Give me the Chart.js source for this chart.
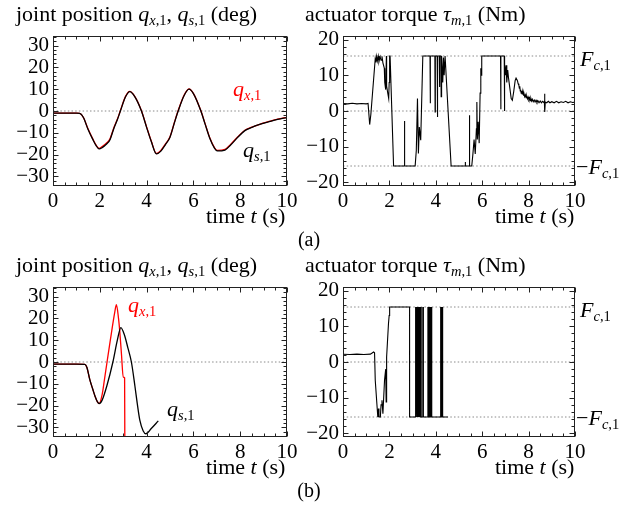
<!DOCTYPE html>
<html>
<head>
<meta charset="utf-8">
<script src="https://cdn.jsdelivr.net/npm/chart.js@4.4.1/dist/chart.umd.min.js"></script>
<style>
  body { margin: 0; background: #fff; width: 639px; height: 506px; overflow: hidden; position: relative; font-family: 'Liberation Serif', serif; }
  canvas { position: absolute; }
  .t { position: absolute; white-space: nowrap; line-height: 1; color: #000; }
  .t i { font-style: italic; }
  .t sub { font-size: 0.66em; vertical-align: baseline; position: relative; top: 0.28em; }
</style>
</head>
<body>
<canvas id="posA"></canvas>
<canvas id="tauA"></canvas>
<canvas id="posB"></canvas>
<canvas id="tauB"></canvas>
<script>
// ---- data ----
const timeTicks = [0, 2, 4, 6, 8, 10];
const posTicks = [-30, -20, -10, 0, 10, 20, 30];
const tauTicks = [-20, -10, 0, 10, 20];
const posRefLevels = [0];
const tauRefLevels = [0, 15.4, -15.4];

// (a) joint position
const tPosA = [0, 0.5, 1.0, 1.14, 1.3, 1.5, 1.7, 1.85, 1.97, 2.1, 2.3, 2.43, 2.6, 2.75, 2.88, 3.1, 3.28, 3.5, 3.78, 4.0, 4.2, 4.42, 4.6, 4.8, 5.0, 5.2, 5.35, 5.6, 5.81, 6.0, 6.32, 6.5, 6.7, 6.9, 7.02, 7.35, 7.6, 7.9, 8.2, 8.5, 8.8, 9.2, 9.6, 10];
const qsA = [-1, -1, -1, -1.1, -3, -8.5, -13, -16, -17.4, -16.8, -15, -13.3, -8, -4, 0, 6.5, 8.9, 6.5, 0, -7.5, -14, -19.7, -18.5, -15.5, -12, -5, 0, 7, 10, 8, 0, -6, -12.5, -17, -18.3, -17.9, -15.5, -12, -9, -7.5, -6.3, -5, -3.8, -3];
const qxA = [-1, -1, -1, -1.1, -3, -8.3, -12.8, -15.8, -17.2, -16.3, -14.6, -12.9, -7.7, -3.8, 0.2, 6.7, 9.0, 6.6, 0.1, -7.3, -13.8, -19.5, -18.2, -15.2, -11.8, -4.8, 0.2, 7.2, 10.1, 8.1, 0.1, -5.8, -12.3, -16.8, -18.1, -17.6, -15.2, -11.8, -8.8, -7.4, -6.2, -4.9, -3.7, -2.9];

// (a) actuator torque [t, tau]
const tauAData = [[0,2.1],[0.2,2.0],[0.4,2.15],[0.6,2.0],[0.8,2.1],[1.0,2.0],[1.08,2.1],[1.15,-3.8],[1.2,-1],[1.39,14.7],[1.42,13.6],[1.45,15.3],[1.48,14],[1.52,15.4],[1.55,13.8],[1.6,15.2],[1.64,14.2],[1.68,15.3],[1.72,13.5],[1.78,12],[1.8,8],[1.84,6],[1.87,15.4],[1.88,7],[1.93,5],[1.97,3.5],[1.99,8],[2.01,15.4],[2.03,15.4],[2.18,-15.4],[2.64,-15.4],[2.65,-2.8],[2.66,-15.4],[3.11,-15.4],[3.16,-11],[3.21,3.5],[3.25,-11.9],[3.29,-4.5],[3.35,-8.2],[3.44,15.4],[3.75,15.4],[3.76,2.2],[3.77,15.4],[3.96,15.4],[3.97,-0.3],[3.98,15.4],[4.06,15.4],[4.07,-1.7],[4.08,15.4],[4.15,15.4],[4.16,6.7],[4.17,15.4],[4.22,15.4],[4.23,4],[4.25,15.4],[4.3,8],[4.33,15],[4.36,10],[4.4,15.4],[4.66,-15.4],[5.26,-15.4],[5.27,-14.3],[5.28,-15.4],[5.44,-15.4],[5.45,-1.2],[5.46,-15.4],[5.55,-15.4],[5.6,-12],[5.65,-8],[5.7,-12],[5.75,-5],[5.77,2.5],[5.79,-8],[5.83,-3],[5.87,-9],[5.91,5],[5.94,12],[5.96,10],[5.98,15.4],[6.79,15.4],[6.8,0.5],[6.81,15.4],[6.95,15.4],[6.96,0],[6.97,13],[7.0,10],[7.03,12.8],[7.06,8],[7.1,11.5],[7.13,9.5],[7.2,6],[7.25,3.5],[7.3,3],[7.36,5.5],[7.42,8.5],[7.46,9.2],[7.52,8.5],
  [7.55,7.6],[7.58,7.2],[7.6,6.4],[7.62,6.9],[7.64,5.6],[7.66,5.9],[7.68,5.0],[7.7,5.6],[7.72,4.8],[7.75,5.3],[7.78,4.4],[7.8,4.9],[7.83,4.0],[7.86,4.5],[7.89,3.7],[7.92,4.2],[7.95,3.4],[7.98,3.9],[8.01,3.2],[8.04,3.7],[8.07,2.9],[8.1,3.5],[8.13,2.8],[8.16,3.3],[8.2,2.6],[8.24,3.1],[8.28,2.5],[8.32,3.0],[8.36,2.4],[8.4,2.9],[8.45,2.3],[8.5,2.8],[8.55,2.3],[8.6,2.7],[8.65,2.4],[8.68,2.7],[8.69,4.8],[8.7,-0.3],[8.72,2.5],[8.78,2.3],[8.85,2.7],[8.92,2.3],[9.0,2.6],[9.1,2.3],[9.2,2.7],[9.3,2.3],[9.4,2.6],[9.5,2.4],[9.6,2.7],[9.7,2.3],[9.8,2.6],[9.9,2.4],[10,2.5]];

// (b) joint position
const tQsB = [0, 0.5, 1.0, 1.36, 1.45, 1.57, 1.7, 1.8, 1.9, 1.97, 2.1, 2.3, 2.56, 2.75, 2.9, 3.05, 3.2, 3.35, 3.5, 3.6, 3.71, 3.85, 3.97, 4.2, 4.5];
const qsB = [-1, -1, -1, -1.1, -2.5, -8, -12.5, -15.8, -18.3, -19.1, -17.5, -11, 0, 10, 15.8, 12.5, 6.5, 0, -11, -19, -26.7, -31.5, -32.9, -30.5, -27];
const tQxB = [0, 0.5, 1.0, 1.36, 1.45, 1.57, 1.7, 1.8, 1.9, 1.97, 2.1, 2.2, 2.31, 2.45, 2.64, 2.71, 2.8, 2.85, 2.93, 3.0, 3.06, 3.07];
const qxB = [-1, -1, -1, -1.1, -2.5, -8, -12.5, -15.8, -18.3, -19.1, -15, -8, 0, 10, 22.9, 26.3, 20, 14.5, 3, -6.9, -7.3, -40];

// (b) actuator torque [t, tau]
const tauBData = [[0,2.15],[0.3,2.1],[0.6,2.2],[0.9,2.1],[1.18,2.2],[1.32,2.8],[1.36,2.6],[1.39,-5.1],[1.46,-11.7],[1.5,-15.4],[1.53,-13],[1.55,-15.4],[1.61,-15.4],[1.64,-12],[1.68,-10.7],[1.72,-14.5],[1.79,-5.1],[1.84,-2],[1.86,-11.2],[1.87,-1],[1.89,1.4],[1.96,10.7],[1.99,13],[2.01,15.4],[2.87,15.4],[2.87,-15.4],[3.11,-15.4],
  [3.12,15.4],[3.14,-15.4],[3.16,15.4],[3.18,-15.4],[3.2,15.4],[3.22,-15.4],[3.24,15.4],[3.26,-15.4],[3.28,15.4],[3.3,-15.4],[3.32,15.4],[3.33,-15.4],
  [3.37,-15.4],[3.37,15.4],[3.372,-15.4],
  [3.43,-15.4],[3.44,15.4],[3.45,-15.4],[3.46,15.4],[3.47,-15.4],
  [3.64,-15.4],[3.66,15.4],[3.68,-15.4],[3.7,15.4],[3.72,-15.4],[3.74,15.4],[3.76,-15.4],[3.78,15.4],[3.8,-15.4],[3.82,15.4],[3.83,-15.4],
  [4.19,-15.4],[4.21,15.4],[4.23,-15.4],[4.25,15.4],[4.27,-15.4],[4.29,15.4],[4.3,-15.4],
  [4.52,-15.4]];

// ---- helpers ----
const pairs = arr => arr.map(p => ({x: p[0], y: p[1]}));
const zip = (ts, vs) => ts.map((t, i) => ({x: t, y: vs[i]}));
const fmt = v => (v < 0 ? '\u2212' + (-v) : String(v));

// frame with inward major/minor ticks on all four sides
const frameTicks = {
  id: 'frameTicks',
  afterDatasetsDraw(chart) {
    const ctx = chart.ctx, a = chart.chartArea;
    const xs = chart.scales.x, ys = chart.scales.y;
    const L = Math.round(a.left) + 0.5, R = Math.round(a.right) - 0.5;
    const T = Math.round(a.top) + 0.5, B = Math.round(a.bottom) - 0.5;
    ctx.save();
    ctx.strokeStyle = '#222';
    ctx.lineWidth = 1;
    ctx.beginPath();
    for (let v = 0; v <= 10.001; v += 0.5) {
      const len = Math.abs(v / 2 - Math.round(v / 2)) < 1e-6 ? 5 : 3;
      const p = Math.round(xs.getPixelForValue(v)) + 0.5;
      ctx.moveTo(p, B); ctx.lineTo(p, B - len);
      ctx.moveTo(p, T); ctx.lineTo(p, T + len);
    }
    const start = Math.ceil(ys.min / 2) * 2;
    for (let v = start; v <= ys.max; v += 2) {
      const len = v % 10 === 0 ? 5 : 3;
      const p = Math.round(ys.getPixelForValue(v)) + 0.5;
      ctx.moveTo(L, p); ctx.lineTo(L + len, p);
      ctx.moveTo(R, p); ctx.lineTo(R - len, p);
    }
    ctx.stroke();
    ctx.strokeRect(L, T, R - L, B - T);
    ctx.restore();
  }
};

function refSets(levels) {
  return levels.map(v => ({
    data: [{x: 0, y: v}, {x: 10, y: v}],
    showLine: true,
    borderColor: '#8a8a8a', borderWidth: 1, borderDash: [1.5, 2.2],
    pointRadius: 0, order: 5
  }));
}

function makeChart(id, area, yRange, yTicks, datasets) {
  const padL = 60, padT = 12, padR = 25, padB = 40;
  const w = area.right - area.left, h = area.bottom - area.top;
  const c = document.getElementById(id);
  c.width = w + padL + padR;
  c.height = h + padT + padB;
  c.style.left = (area.left - padL) + 'px';
  c.style.top = (area.top - padT) + 'px';
  const tickFont = {family: 'Liberation Serif', size: 21};
  return new Chart(c, {
    type: 'scatter',
    data: {datasets},
    plugins: [frameTicks],
    options: {
      responsive: false, animation: false, devicePixelRatio: 1,
      layout: {padding: {left: 0, top: padT, right: padR, bottom: 0}},
      plugins: {legend: {display: false}, tooltip: {enabled: false}},
      elements: {point: {radius: 0}},
      scales: {
        x: {
          type: 'linear', min: 0, max: 10,
          grid: {display: false, drawTicks: false},
          border: {display: false},
          ticks: {font: tickFont, color: '#000', padding: 3, maxRotation: 0, autoSkip: false, callback: fmt},
          afterBuildTicks: s => { s.ticks = timeTicks.map(v => ({value: v})); },
          afterFit: s => { s.height = padB; s.paddingLeft = 0; s.paddingRight = 0; }
        },
        y: {
          type: 'linear', min: yRange[0], max: yRange[1],
          grid: {display: false, drawTicks: false},
          border: {display: false},
          ticks: {font: tickFont, color: '#000', padding: 4, autoSkip: false, callback: fmt},
          afterBuildTicks: s => { s.ticks = yTicks.map(v => ({value: v})); },
          afterFit: s => { s.width = padL; s.paddingTop = 0; s.paddingBottom = 0; }
        }
      }
    }
  });
}

const lineSet = (data, color, width, order, smooth) => ({
  data, borderColor: color, borderWidth: width, showLine: true, pointRadius: 0, order,
  tension: smooth ? 0.4 : 0, cubicInterpolationMode: smooth ? 'monotone' : 'default'
});

const posRange = [-34.4, 34.4];
const tauRange = [-21, 21];

makeChart('posA', {left: 53, top: 36, right: 287, bottom: 186}, posRange, posTicks,
  [lineSet(zip(tPosA, qsA), '#000', 1.3, 0, true),
   lineSet(zip(tPosA, qxA), '#ff0000', 1.3, 1, true)].concat(refSets(posRefLevels)));

makeChart('tauA', {left: 343, top: 36, right: 575, bottom: 186}, tauRange, tauTicks,
  [lineSet(pairs(tauAData), '#000', 1.1, 0, false)].concat(refSets(tauRefLevels)));

makeChart('posB', {left: 53, top: 287, right: 287, bottom: 437}, posRange, posTicks,
  [lineSet(zip(tQsB, qsB), '#000', 1.3, 0, true),
   lineSet(zip(tQxB, qxB), '#ff0000', 1.3, 1, true)].concat(refSets(posRefLevels)));

makeChart('tauB', {left: 343, top: 287, right: 575, bottom: 437}, tauRange, tauTicks,
  [lineSet(pairs(tauBData), '#000', 1.1, 0, false)].concat(refSets(tauRefLevels)));

// ---- text ----
function label(html, x, base, size, color, center) {
  const d = document.createElement('div');
  d.className = 't';
  d.innerHTML = html;
  d.style.fontSize = size + 'px';
  d.style.top = (base - size * 0.838) + 'px';
  d.style.left = x + 'px';
  d.style.color = color || '#000';
  if (center) d.style.transform = 'translateX(-50%)';
  document.body.appendChild(d);
}
const qx = '<i>q</i><sub><i>x</i>,1</sub>';
const qs = '<i>q</i><sub><i>s</i>,1</sub>';
const fc = '<i>F</i><sub><i>c</i>,1</sub>';
const posTitle = 'joint position ' + qx + ', ' + qs + ' (deg)';
const tauTitle = 'actuator torque <i>\u03c4</i><sub><i>m</i>,1</sub> (Nm)';
const timeLabel = 'time <i>t</i> (s)';

[0, 251].forEach(dy => {
  label(posTitle, 16, 21 + dy, 22);
  label(tauTitle, 305, 21 + dy, 22);
  label(timeLabel, 206, 223 + dy, 22);
  label(timeLabel, 495, 223 + dy, 22);
  label(fc, 580, 66 + dy, 22);
  label('\u2212' + fc, 576, 174 + dy, 22);
});
label(qx, 233, 96, 22, '#ff0000');
label(qs, 243, 157, 22);
label(qx, 128, 312, 22, '#ff0000');
label(qs, 167, 416, 22);
label('(a)', 309, 246, 20, '#000', true);
label('(b)', 309, 497, 20, '#000', true);
</script>
</body>
</html>
